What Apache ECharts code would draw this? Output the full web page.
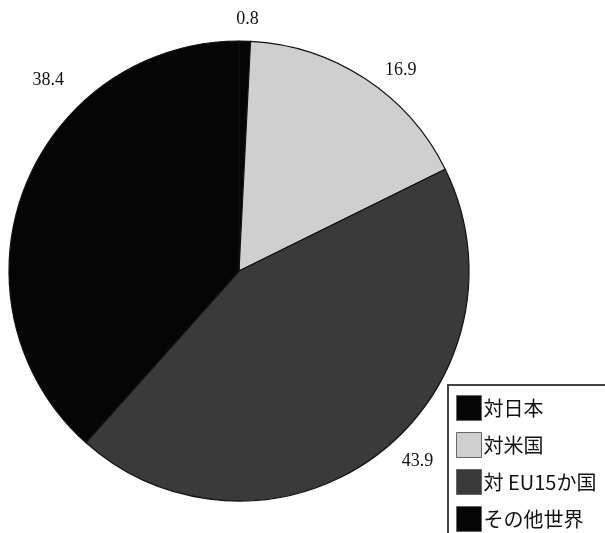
<!DOCTYPE html>
<html>
<head>
<meta charset="utf-8">
<script src="https://cdn.jsdelivr.net/npm/echarts@6/dist/echarts.min.js"></script>
<style>
  html, body { margin: 0; padding: 0; background: #fff; }
  #chart { width: 605px; height: 533px; }
</style>
</head>
<body>
<div id="chart"></div>
<script>
// Shares by destination (%), clockwise from 12 o'clock
var categories = ['対日本', '対米国', '対 EU15か国', 'その他世界'];
var shares = [0.8, 16.9, 43.9, 38.4];
var sliceColors = ['#050505', '#cfcfcf', '#3a3a3a', '#050505'];

// Small per-label nudges from the default outside position
var labelNudge = [[-9, -8], [12, 3], [15, -4], [53, -104]];

var chart = echarts.init(document.getElementById('chart'));

var data = categories.map(function (name, i) {
  return { name: name, value: shares[i], itemStyle: { color: sliceColors[i] } };
});

chart.setOption({
  animation: false,
  backgroundColor: '#ffffff',
  legend: {
    orient: 'vertical',
    left: 448,
    top: 385,
    height: 140,
    padding: [10, 40, 40, 8],
    itemWidth: 25,
    itemHeight: 25,
    itemGap: 11,
    icon: 'rect',
    borderColor: '#444',
    borderWidth: 2,
    selectedMode: false,
    itemStyle: { borderColor: '#666', borderWidth: 1 },
    textStyle: {
      fontFamily: '"Noto Sans CJK JP", "Liberation Serif", serif',
      fontSize: 20,
      color: '#111',
      padding: [0, 0, 0, -3]
    },
    data: categories
  },
  series: [{
    type: 'pie',
    center: [239, 271],
    radius: 230,
    startAngle: 90,
    clockwise: true,
    avoidLabelOverlap: false,
    itemStyle: { borderColor: '#111', borderWidth: 1.2 },
    label: {
      show: true,
      position: 'outside',
      formatter: function (p) { return p.value.toFixed(1); },
      fontFamily: '"Liberation Serif", "DejaVu Serif", serif',
      fontSize: 18,
      color: '#111',
      distanceToLabelLine: 0
    },
    labelLine: { show: false, length: 14, length2: 0 },
    labelLayout: function (params) {
      var n = labelNudge[params.dataIndex];
      return { dx: n[0], dy: n[1] };
    },
    emphasis: { disabled: true },
    data: data
  }]
});
</script>
</body>
</html>
